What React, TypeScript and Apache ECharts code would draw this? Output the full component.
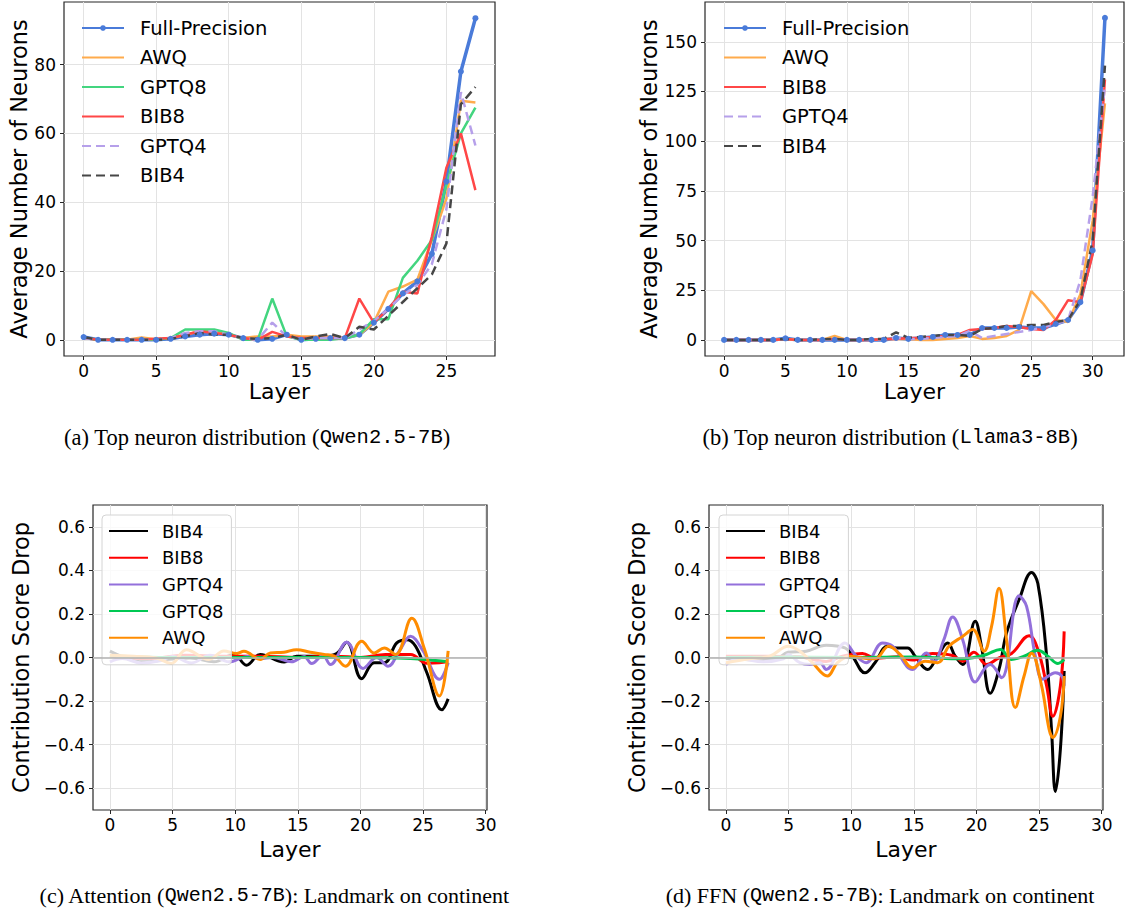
import React, { useEffect, useRef } from "react";
import * as echarts from "echarts";

// ---------- data ----------
const LAYERS_A = [0, 1, 2, 3, 4, 5, 6, 7, 8, 9, 10, 11, 12, 13, 14, 15, 16, 17, 18, 19, 20, 21, 22, 23, 24, 25, 26, 27];
const LAYERS_B = [0, 1, 2, 3, 4, 5, 6, 7, 8, 9, 10, 11, 12, 13, 14, 15, 16, 17, 18, 19, 20, 21, 22, 23, 24, 25, 26, 27, 28, 29, 30, 31];

// (a) Qwen2.5-7B top neuron distribution
const A_FULL = [0.8, 0, 0, 0, 0, 0, 0.3, 1, 1.5, 1.8, 1.5, 0.5, 0, 0.3, 1.5, 0, 0.3, 0.5, 0.5, 1.5, 5, 9, 13.5, 17, 25, 46, 78, 93.5];
const A_AWQ = [0.5, 0, 0, 0, 0.7, 0.2, 0.5, 1.5, 2.5, 2.5, 1.5, 0.5, 1, 1, 1.5, 1, 1, 1, 0.5, 1.5, 5, 14, 15.5, 17.5, 29, 41, 69.5, 69];
const A_GPTQ8 = [0.5, 0, 0, 0, 0, 0, 0.5, 3, 3, 3, 2, 0, 0, 12, 1, 0, 0, 0, 0.5, 1.5, 6, 6, 18, 23, 29, 45, 60, 67.5];
const A_BIB8 = [0.5, 0, 0, 0, 0, 0.3, 0.5, 1.5, 2.5, 2, 1.5, 0.5, 0, 2.3, 1, 0.5, 0.5, 0.5, 0.5, 12, 5, 9, 14, 13.5, 30, 50, 60, 43.5];
const A_GPTQ4 = [0.5, 0, 0, 0, 0, 0, 0.5, 2, 2.5, 2.5, 1.5, 0.5, 0, 5, 1, 0.3, 0.5, 0.5, 0.5, 3, 5.5, 9, 13, 16, 22, 38, 72, 56.5];
const A_BIB4 = [0.8, 0, 0, 0, 0, 0, 0.3, 1, 2, 1.5, 1.5, 0.5, 0.3, 0.5, 1.5, 0, 1, 1.7, 0.5, 3.8, 3, 7, 11, 15, 19, 28, 68.5, 73.5];

// (b) Llama3-8B top neuron distribution
const B_FULL = [0, 0, 0, 0, 0, 0.8, 0, 0, 0, 0, 0, 0, 0, 0, 1, 0.5, 1, 1.5, 2.5, 2.5, 2.5, 6, 6, 6, 6.5, 6, 6, 8, 10, 19, 45, 162];
const B_AWQ = [0, 0, 0, 0, 0, 0.5, 0, 0, 0, 2, 0, 0, 0, 0.5, 0.5, 0.5, 0, 0, 0.5, 1, 2, 0.5, 1, 2, 5, 24.5, 18, 10, 9, 23, 60, 119];
const B_BIB8 = [0, 0, 0, 0, 0, 0.5, 0, 0, 0, 0.5, 0, 0, 0, 0.5, 0.5, 1, 1, 1.5, 2, 2.5, 5, 5.5, 6, 7, 6.5, 5.5, 5, 10, 20, 19, 43, 131];
const B_GPTQ4 = [0, 0, 0, 0, 0, 0.5, 0, 0, 0, 0.5, 0, 0, 0, 0.5, 1, 0.5, 0.5, 1, 1.5, 2, 4.5, 1, 2, 3, 4, 5, 6.5, 8, 10, 30, 72, 128];
const B_BIB4 = [0, 0, 0, 0, 0, 0.5, 0, 0, 0.3, 0.5, 0, 0, 0.5, 0.5, 3.8, 1, 1.5, 2, 2.5, 2.5, 2, 5.5, 6, 7, 7, 7.5, 7.5, 9, 10, 20, 50, 138];

// (c) Attention, contribution score drop: [layer, value]
const C_BIB4 = [[0, 0.029], [2.7, -0.02], [4.5, -0.009], [6.4, -0.002], [8.3, -0.02], [9.9, 0.014], [10.9, -0.035], [12, 0.014], [13.9, -0.021], [14.9, 0.006], [17.1, 0.006], [18.1, 0.018], [18.9, 0.07], [20.1, -0.097], [21.1, -0.024], [21.9, -0.024], [22.9, 0.067], [23.7, 0.082], [24.4, 0.052], [25.3, -0.07], [26.5, -0.24], [27, -0.19]];
const C_BIB8 = [[0, 0.006], [3, -0.005], [6, 0.01], [9, 0.006], [12, 0.006], [15, 0], [18, 0.006], [20, 0], [22, 0.014], [24, 0.014], [25.3, -0.026], [26.3, -0.024], [27, -0.018]];
const C_GPTQ4 = [[0, -0.02], [1, -0.005], [2.5, -0.025], [4, -0.015], [5, 0.005], [6.5, -0.025], [8, 0.01], [9.5, -0.02], [11, 0.005], [12, -0.005], [13, 0], [14.5, -0.02], [15.5, 0.005], [16.1, -0.028], [17, 0.009], [17.6, -0.032], [18.9, 0.07], [20.2, -0.05], [21.3, 0], [22.2, -0.04], [23.1, 0.03], [24, 0.097], [25, 0.03], [26.3, -0.1], [27, -0.024]];
const C_GPTQ8 = [[0, 0.008], [5, 0], [10, 0], [15, 0], [20, 0], [24, -0.005], [26, -0.014], [27, -0.02]];
const C_AWQ = [[0, 0.01], [1.9, 0.006], [3.7, -0.002], [4.9, -0.027], [6.1, 0.036], [7.9, -0.009], [9.1, 0.03], [10.1, 0.018], [10.7, 0.029], [12, -0.009], [12.8, 0.021], [13.9, 0.024], [14.9, 0.036], [16, 0.024], [17.1, 0.014], [17.9, 0.006], [18.8, -0.04], [20.1, 0.075], [21.1, 0.021], [21.9, 0.044], [22.8, 0.014], [24.1, 0.18], [25.1, 0.04], [26.3, -0.177], [27, 0.03]];

// (d) FFN, contribution score drop
const D_BIB4 = [[0, -0.005], [1.9, -0.01], [4, -0.006], [4.95, 0.024], [6.4, 0.029], [8, 0.056], [9.5, 0.044], [10.1, 0.006], [11.1, -0.07], [11.9, -0.024], [12.9, 0.052], [13.6, 0.044], [14.5, 0.044], [15.1, 0.006], [16.1, -0.055], [16.9, 0.006], [17.7, 0.067], [18.3, 0.006], [18.9, -0.032], [19.9, 0.166], [20.4, 0.05], [21.1, -0.164], [21.8, -0.055], [22.4, 0.113], [23.4, 0.265], [24.4, 0.39], [24.9, 0.34], [25.6, 0.006], [26, -0.34], [26.3, -0.615], [26.7, -0.42], [27, -0.062]];
const D_BIB8 = [[0, 0.006], [3.2, 0.006], [5.9, 0.003], [6.9, -0.009], [8, -0.018], [9.3, 0.006], [10.9, 0.018], [11.9, -0.003], [13.8, 0.003], [14.9, -0.012], [16.5, 0.018], [18.1, 0.009], [18.9, -0.017], [19.8, 0.024], [20.8, -0.032], [21.8, -0.002], [22.8, 0.018], [24.2, 0.1], [24.9, 0.037], [25.6, -0.13], [26.1, -0.27], [26.7, -0.13], [27, 0.12]];
const D_GPTQ4 = [[0, -0.032], [1, -0.006], [3, -0.02], [4.6, -0.006], [4.95, 0.014], [5.9, -0.024], [6.7, -0.032], [7.5, -0.024], [8, -0.055], [9.5, 0.067], [10.4, 0.006], [11.2, -0.024], [12.5, 0.067], [13.3, 0.052], [14.9, -0.055], [16, 0.021], [16.6, -0.017], [17.4, 0.082], [18.1, 0.186], [18.9, 0.082], [19.9, -0.113], [20.7, -0.047], [21.1, -0.032], [22, -0.093], [23.4, 0.283], [24, 0.235], [24.7, 0.006], [25.3, -0.1], [26.3, -0.07], [26.8, -0.085], [27, -0.13]];
const D_GPTQ8 = [[0, 0], [5, 0.002], [10, 0], [15, 0.002], [18.9, -0.006], [19.8, 0], [20.8, 0.014], [21.9, 0.037], [22.8, -0.009], [23.8, 0.006], [24.9, 0.033], [25.7, 0.006], [26.5, -0.027], [27, -0.009]];
const D_AWQ = [[0, -0.024], [1.9, -0.006], [3.5, 0.006], [5, 0.052], [5.9, 0.029], [6.9, -0.024], [8.1, -0.085], [8.9, -0.024], [9.9, 0.006], [10.9, -0.002], [11.9, -0.006], [13, 0.052], [13.9, 0.014], [14.9, -0.047], [15.9, -0.017], [16.9, -0.024], [17.8, 0.052], [18.9, 0.097], [19.7, 0.128], [20.6, 0.029], [21.2, 0.142], [21.8, 0.318], [22.4, 0.082], [23.1, -0.23], [23.8, -0.085], [24.4, 0.02], [25.2, -0.13], [25.8, -0.33], [26.1, -0.367], [26.7, -0.27], [27, -0.085]];

const TICKS_A_X = [0, 5, 10, 15, 20, 25];
const TICKS_A_Y = [0, 20, 40, 60, 80];
const TICKS_B_X = [0, 5, 10, 15, 20, 25, 30];
const TICKS_B_Y = [0, 25, 50, 75, 100, 125, 150];
const TICKS_CD_X = [0, 5, 10, 15, 20, 25, 30];
const TICKS_CD_Y = [-0.6, -0.4, -0.2, 0, 0.2, 0.4, 0.6];

// ---------- styling ----------
const SANS = "DejaVu Sans";
const SERIF = "Liberation Serif";
const MONO = "Liberation Mono";
const FRAME = "#262626";
const GRIDC = "#e3e3e3";

const pairs = (xs: number[], ys: number[]) => ys.map((v, i) => [xs[i], v]);
const fmtDec = (v: number) => v.toFixed(1).replace("-", "\u2212");
const fmtInt = (v: number) => String(Math.round(v));
const strip = (n: string) => n.replace(/\u200b/g, "");

function mkX(gi: number, min: number, max: number, ticks: number[], nameGap: number) {
  return {
    type: "value", gridIndex: gi, min, max,
    name: "Layer", nameLocation: "middle", nameGap,
    nameTextStyle: { fontFamily: SANS, fontSize: 22, color: "#000" },
    axisLine: { show: false, onZero: false },
    axisTick: { show: true, length: 4, lineStyle: { color: FRAME, width: 1 }, customValues: ticks },
    axisLabel: { customValues: ticks, fontFamily: SANS, fontSize: 17, color: "#000", margin: 6, formatter: fmtInt },
    splitLine: { show: true, lineStyle: { color: GRIDC, width: 1 } },
  };
}
function mkY(gi: number, min: number, max: number, ticks: number[], name: string, nameGap: number, fmt: (v: number) => string) {
  return {
    type: "value", gridIndex: gi, min, max,
    name, nameLocation: "middle", nameGap, nameRotate: 90,
    nameTextStyle: { fontFamily: SANS, fontSize: 22.5, color: "#000" },
    axisLine: { show: false, onZero: false },
    axisTick: { show: true, length: 4, lineStyle: { color: FRAME, width: 1 }, customValues: ticks },
    axisLabel: { customValues: ticks, fontFamily: SANS, fontSize: 17, color: "#000", margin: 8, formatter: fmt },
    splitLine: { show: true, lineStyle: { color: GRIDC, width: 1 } },
  };
}
function line(name: string, idx: number, data: any[], color: string, width: number, dash: any, smooth: boolean, extra: any = {}) {
  return {
    type: "line", name, xAxisIndex: idx, yAxisIndex: idx, data,
    symbol: "none", smooth: smooth ? 0.4 : false,
    lineStyle: { color, width, type: dash, cap: "butt" },
    itemStyle: { color },
    emphasis: { disabled: true },
    animation: false,
    ...extra,
  };
}
function caption(x: number, y: number, pre: string, mono: string, post: string, size: number) {
  return {
    type: "text", x, y,
    style: {
      text: `{s|${pre}}{m|${mono}}{s|${post}}`,
      rich: {
        s: { fontFamily: SERIF, fontSize: size, fill: "#000" },
        m: { fontFamily: MONO, fontSize: size - 2, fill: "#000" },
      },
      align: "center", verticalAlign: "middle", fill: "#000",
    },
  };
}

const S1 = "";
const S2 = "\u200b";
const S3 = "\u200b\u200b";
const S4 = "\u200b\u200b\u200b";

// legend entries: only Full-Precision shows its marker
const legendItems = (names: string[], suffix: string) =>
  names.map((n) => (n === "Full-Precision" ? { name: n + suffix } : { name: n + suffix, itemStyle: { opacity: 0 } }));

export default function App() {
  const ref = useRef<HTMLDivElement>(null);
  useEffect(() => {
    if (!ref.current) return;
    const chart = echarts.init(ref.current, null, { renderer: "svg" });

    const colFull = "#4a7bd9";
    const colAwq = "#ffab4c";
    const colG8 = "#43d57f";
    const colB8 = "#ff4747";
    const colG4 = "#b6a0ea";
    const colB4 = "#464646";

    const zeroLine = {
      markLine: {
        silent: true, symbol: ["none", "none"], label: { show: false },
        lineStyle: { color: "#b0b0b0", width: 1.6, type: "solid" },
        data: [{ yAxis: 0 }],
      },
    };

    const series: any[] = [
      line("Full-Precision" + S1, 0, pairs(LAYERS_A, A_FULL), colFull, 3.5, "solid", false, { symbol: "circle", symbolSize: 6, showSymbol: true }),
      line("AWQ" + S1, 0, pairs(LAYERS_A, A_AWQ), colAwq, 2.5, "solid", false),
      line("GPTQ8" + S1, 0, pairs(LAYERS_A, A_GPTQ8), colG8, 2.5, "solid", false),
      line("BIB8" + S1, 0, pairs(LAYERS_A, A_BIB8), colB8, 2.5, "solid", false),
      line("GPTQ4" + S1, 0, pairs(LAYERS_A, A_GPTQ4), colG4, 2.5, [9, 5], false),
      line("BIB4" + S1, 0, pairs(LAYERS_A, A_BIB4), colB4, 2.5, [9, 5], false),

      line("Full-Precision" + S2, 1, pairs(LAYERS_B, B_FULL), colFull, 3.5, "solid", false, { symbol: "circle", symbolSize: 6, showSymbol: true }),
      line("AWQ" + S2, 1, pairs(LAYERS_B, B_AWQ), colAwq, 2.5, "solid", false),
      line("BIB8" + S2, 1, pairs(LAYERS_B, B_BIB8), colB8, 2.5, "solid", false),
      line("GPTQ4" + S2, 1, pairs(LAYERS_B, B_GPTQ4), colG4, 2.5, [9, 5], false),
      line("BIB4" + S2, 1, pairs(LAYERS_B, B_BIB4), colB4, 2.5, [9, 5], false),

      line("BIB4" + S3, 2, C_BIB4, "#000000", 3, "solid", true, zeroLine),
      line("BIB8" + S3, 2, C_BIB8, "#ff0000", 3, "solid", true),
      line("GPTQ4" + S3, 2, C_GPTQ4, "#9370db", 3, "solid", true),
      line("GPTQ8" + S3, 2, C_GPTQ8, "#00c853", 3, "solid", true),
      line("AWQ" + S3, 2, C_AWQ, "#ff8c00", 3, "solid", true),

      line("BIB4" + S4, 3, D_BIB4, "#000000", 3, "solid", true, zeroLine),
      line("BIB8" + S4, 3, D_BIB8, "#ff0000", 3, "solid", true),
      line("GPTQ4" + S4, 3, D_GPTQ4, "#9370db", 3, "solid", true),
      line("GPTQ8" + S4, 3, D_GPTQ8, "#00c853", 3, "solid", true),
      line("AWQ" + S4, 3, D_AWQ, "#ff8c00", 3, "solid", true),
    ];

    const legendTop = (items: any[], left: number) => ({
      data: items, orient: "vertical", left, top: 18, padding: 0,
      itemWidth: 42, itemHeight: 7, itemGap: 9.5,
      formatter: strip, selectedMode: false,
      textStyle: { fontFamily: SANS, fontSize: 19.5, color: "#000", lineHeight: 20, padding: [0, 0, 0, 11] },
    });
    const legendBox = (items: any[], left: number) => ({
      data: items, orient: "vertical", left, top: 515, padding: [7, 8, 18, 6],
      itemWidth: 39, itemHeight: 7, itemGap: 8.7,
      formatter: strip, selectedMode: false,
      backgroundColor: "rgba(255,255,255,0.8)", borderColor: "#d4d4d4", borderWidth: 1, borderRadius: 4,
      textStyle: { fontFamily: SANS, fontSize: 18, color: "#000", lineHeight: 18, padding: [0, 0, 0, 9] },
    });

    chart.setOption({
      animation: false,
      backgroundColor: "#ffffff",
      grid: [
        { left: 64, top: 2, width: 431, height: 354, show: true, borderColor: FRAME, borderWidth: 1.2, backgroundColor: "transparent" },
        { left: 705, top: 2, width: 419, height: 354, show: true, borderColor: FRAME, borderWidth: 1.2, backgroundColor: "transparent" },
        { left: 93, top: 505, width: 394, height: 305, show: true, borderColor: FRAME, borderWidth: 1.2, backgroundColor: "transparent" },
        { left: 709, top: 505, width: 394, height: 305, show: true, borderColor: FRAME, borderWidth: 1.2, backgroundColor: "transparent" },
      ],
      xAxis: [
        mkX(0, -1.35, 28.35, TICKS_A_X, 24),
        mkX(1, -1.55, 32.55, TICKS_B_X, 24),
        mkX(2, -1.35, 30.1, TICKS_CD_X, 28),
        mkX(3, -1.35, 30.1, TICKS_CD_X, 28),
      ],
      yAxis: [
        mkY(0, -4.7, 98.2, TICKS_A_Y, "Average Number of Neurons", 32, fmtInt),
        mkY(1, -8.1, 170, TICKS_B_Y, "Average Number of Neurons", 45, fmtInt),
        mkY(2, -0.7, 0.7, TICKS_CD_Y, "Contribution Score Drop", 61, fmtDec),
        mkY(3, -0.7, 0.7, TICKS_CD_Y, "Contribution Score Drop", 61, fmtDec),
      ],
      legend: [
        legendTop(legendItems(["Full-Precision", "AWQ", "GPTQ8", "BIB8", "GPTQ4", "BIB4"], S1), 81),
        legendTop(legendItems(["Full-Precision", "AWQ", "BIB8", "GPTQ4", "BIB4"], S2), 723),
        legendBox(legendItems(["BIB4", "BIB8", "GPTQ4", "GPTQ8", "AWQ"], S3), 102),
        legendBox(legendItems(["BIB4", "BIB8", "GPTQ4", "GPTQ8", "AWQ"], S4), 719),
      ],
      graphic: [
        caption(257, 437, "(a) Top neuron distribution (", "Qwen2.5-7B", ")", 22.5),
        caption(890, 437, "(b) Top neuron distribution (", "Llama3-8B", ")", 22.5),
        caption(274, 895, "(c) Attention (", "Qwen2.5-7B", "): Landmark on continent", 22),
        caption(880, 895, "(d) FFN (", "Qwen2.5-7B", "): Landmark on continent", 22),
      ],
      series,
    });
    return () => chart.dispose();
  }, []);

  return <div ref={ref} style={{ position: "absolute", left: 0, top: 0, width: 1126, height: 910 }} />;
}
